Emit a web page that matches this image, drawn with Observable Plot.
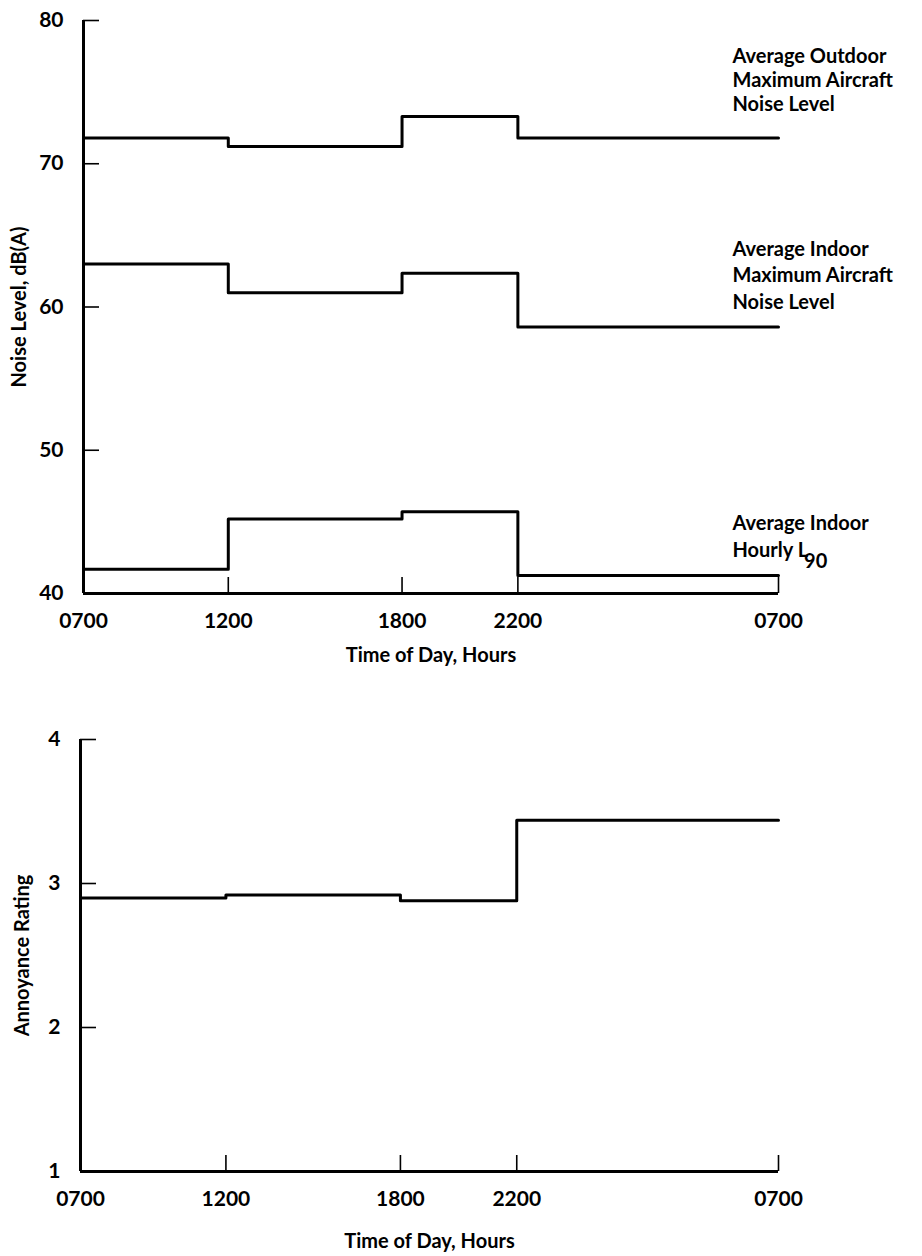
<!DOCTYPE html>
<html>
<head>
<meta charset="utf-8">
<script src="https://cdn.jsdelivr.net/npm/d3@7"></script>
<script src="https://cdn.jsdelivr.net/npm/@observablehq/plot@0.6"></script>
<style>
  html, body { margin: 0; padding: 0; background: #fff; }
  #chart { width: 922px; }
  #chart svg { display: block; }
</style>
</head>
<body>
<div id="chart"></div>
<script>
// ---- data ----
const times = [7, 12, 18, 22, 31];                 // hours; 31 = 0700 next day
const timeLabels = ["0700", "1200", "1800", "2200", "0700"];
const noiseTicks = [40, 50, 60, 70, 80];
const ratingTicks = [1, 2, 3, 4];
const outdoorMax = [71.8, 71.2, 73.3, 71.8];        // dB(A) per period
const indoorMax = [63.0, 61.0, 62.35, 58.6];
const indoorL90 = [41.7, 45.2, 45.7, 41.25];
const annoyance = [2.90, 2.92, 2.88, 3.44];
const seriesNames = [
  "Average Outdoor\nMaximum Aircraft\nNoise Level",
  "Average Indoor\nMaximum Aircraft\nNoise Level",
  "Average Indoor\nHourly L90"
];
const xTitle = "Time of Day, Hours";
const yTitleTop = "Noise Level, dB(A)";
const yTitleBottom = "Annoyance Rating";

// step table: each period value held until the next break time
function steps(values) {
  return times.map((t, i) => ({t, v: values[Math.min(i, values.length - 1)]}));
}
const fmtTime = d => timeLabels[times.indexOf(d)];
const fmtInt = d => String(d);

const W = 922;
const TICK = 16;
const FONT = "Lato, 'DejaVu Sans', sans-serif";
const baseStyle = {fontFamily: FONT, fontSize: "20px", fontWeight: "bold", color: "#000", background: "#fff", overflow: "visible"};
const tickText = {tickSize: 0, tickPadding: 20, label: null, fontSize: 21, letterSpacing: "0.6px"};
const titleText = {fontSize: 20, letterSpacing: "1.2px", textAnchor: "middle", lineAnchor: "middle"};

// ---- top chart ----
const t = {height: 700, marginTop: 20, marginBottom: 107, marginLeft: 83, marginRight: 144};
const innerW1 = W - t.marginLeft - t.marginRight;
const innerH1 = t.height - t.marginTop - t.marginBottom;

const labelStyle = {textAnchor: "start", lineAnchor: "bottom", fontSize: 20, letterSpacing: "1px"};

const p1 = Plot.plot({
  width: W, ...t,
  style: baseStyle,
  x: {domain: [7, 31]},
  y: {domain: [40, 80]},
  marks: [
    Plot.axisY(noiseTicks, {...tickText, tickFormat: fmtInt}),
    Plot.axisX(times, {...tickText, tickFormat: fmtTime}),
    Plot.ruleY(noiseTicks.slice(1), {insetRight: innerW1 - TICK, strokeWidth: 1.6}),
    Plot.ruleX(times.slice(1), {insetTop: innerH1 - TICK, strokeWidth: 1.6}),
    Plot.ruleX([times[0]], {strokeWidth: 3}),
    Plot.ruleY([noiseTicks[0]], {strokeWidth: 3}),
    Plot.line(steps(outdoorMax), {x: "t", y: "v", curve: "step-after", strokeWidth: 3}),
    Plot.line(steps(indoorMax), {x: "t", y: "v", curve: "step-after", strokeWidth: 3}),
    Plot.line(steps(indoorL90), {x: "t", y: "v", curve: "step-after", strokeWidth: 3}),
    Plot.text([seriesNames[0]], {x: times[4], y: outdoorMax[3], dx: -46, dy: -27, lineHeight: 1.2, ...labelStyle}),
    Plot.text([seriesNames[1]], {x: times[4], y: indoorMax[3], dx: -46, dy: -18, lineHeight: 1.33, ...labelStyle}),
    Plot.text([seriesNames[2]], {x: times[4], y: indoorL90[3], dx: -46, dy: -19, lineHeight: 1.33, ...labelStyle}),
    Plot.text([xTitle], {frameAnchor: "bottom", dy: 62, ...titleText}),
    Plot.text([yTitleTop], {frameAnchor: "left", dx: -64, rotate: -90, ...titleText})
  ]
});

// ---- bottom chart ----
const b = {height: 556, marginTop: 39, marginBottom: 85, marginLeft: 80, marginRight: 144};
const innerW2 = W - b.marginLeft - b.marginRight;
const innerH2 = b.height - b.marginTop - b.marginBottom;

const p2 = Plot.plot({
  width: W, ...b,
  style: baseStyle,
  x: {domain: [7, 31]},
  y: {domain: [1, 4]},
  marks: [
    Plot.axisY(ratingTicks, {...tickText, tickFormat: fmtInt}),
    Plot.axisX(times, {...tickText, tickFormat: fmtTime}),
    Plot.ruleY(ratingTicks.slice(1), {insetRight: innerW2 - TICK, strokeWidth: 1.6}),
    Plot.ruleX(times.slice(1), {insetTop: innerH2 - TICK, strokeWidth: 1.6}),
    Plot.ruleX([times[0]], {strokeWidth: 3}),
    Plot.ruleY([ratingTicks[0]], {strokeWidth: 3}),
    Plot.line(steps(annoyance), {x: "t", y: "v", curve: "step-after", strokeWidth: 3}),
    Plot.text([xTitle], {frameAnchor: "bottom", dy: 70, ...titleText}),
    Plot.text([yTitleBottom], {frameAnchor: "left", dx: -58, rotate: -90, ...titleText})
  ]
});

// subscript for L90
const NS = "http://www.w3.org/2000/svg";
p1.querySelectorAll("tspan").forEach(ts => {
  if (ts.textContent === "Hourly L90") {
    ts.textContent = "Hourly L";
    const sub = document.createElementNS(NS, "tspan");
    sub.setAttribute("dy", "0.55em");
    sub.setAttribute("dx", "-4");
    sub.textContent = "90";
    ts.appendChild(sub);
  }
});

document.getElementById("chart").append(p1, p2);
</script>
</body>
</html>
